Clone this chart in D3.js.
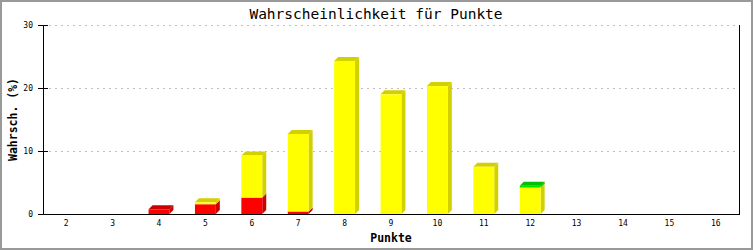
<!DOCTYPE html>
<html>
<head>
<meta charset="utf-8">
<script src="https://cdn.jsdelivr.net/npm/d3@7"></script>
<style>
  body { margin: 0; background: #fff; }
  svg { display: block; }
  text { font-family: "DejaVu Sans Mono", monospace; fill: #000; }
</style>
</head>
<body>
<svg id="chart" width="753" height="250"></svg>
<script>
//categories (Punkte) and stacked series values in %
let categories = ["2","3","4","5","6","7","8","9","10","11","12","13","14","15","16"];
let redValues    = [0, 0, 0.75, 1.55, 2.6, 0.4, 0, 0, 0, 0, 0, 0, 0, 0, 0];
let yellowValues = [0, 0, 0, 0.3, 6.7, 12.3, 24.3, 19.0, 20.3, 7.5, 4.2, 0, 0, 0, 0];
let greenValues  = [0, 0, 0, 0, 0, 0, 0, 0, 0, 0, 0.3, 0, 0, 0, 0];
let yTicks = [0, 10, 20, 30];

let seriesInfo = [
  { key: "red", values: redValues, front: "#ff0000", dark: "#cc0000" },
  { key: "yellow", values: yellowValues, front: "#ffff00", dark: "#d2d000" },
  { key: "green", values: greenValues, front: "#00e000", dark: "#00c000" }
];

//set margins for the plot area
let margin = { top: 25, right: 14, bottom: 36, left: 43 };
let svg = d3.select("#chart");
let width = 753 - margin.left - margin.right;
let height = 250 - margin.top - margin.bottom;
let depth = 4;

//outer frame
svg.append("rect").attr("x", 1).attr("y", 1).attr("width", 751).attr("height", 248)
  .attr("fill", "none").attr("stroke", "#999").attr("stroke-width", 2);

//title
svg.append("text").attr("x", 376).attr("y", 19).attr("text-anchor", "middle")
  .style("font-size", "14.5px").text("Wahrscheinlichkeit für Punkte");

let x = d3.scaleBand().domain(categories).range([0, width]).padding(0);
let y = d3.scaleLinear().domain([0, 30]).range([height, 0]);

let g = svg.append("g").attr("transform", "translate(" + margin.left + "," + margin.top + ")");

//grid lines
g.selectAll(".grid").data(yTicks.filter(function (d) { return d > 0; }))
  .enter().append("line")
  .attr("class", "grid")
  .attr("x1", 6).attr("x2", width)
  .attr("y1", function (d) { return Math.round(y(d)) + 0.5; })
  .attr("y2", function (d) { return Math.round(y(d)) + 0.5; })
  .attr("stroke", "#c0c0c0").attr("stroke-dasharray", "2,4");

//stack the data
let table = categories.map(function (c, i) {
  return { name: c, red: redValues[i], yellow: yellowValues[i], green: greenValues[i] };
});
let stacked = d3.stack().keys(seriesInfo.map(function (s) { return s.key; }))(table);

let bw = x.bandwidth() * 0.45;
function bx(d) { return x(d.data.name) + (x.bandwidth() - bw) / 2; }

//find top segment of each bar for the 3D top face
let totals = table.map(function (d) { return d.red + d.yellow + d.green; });

stacked.forEach(function (layer, li) {
  let info = seriesInfo[li];
  let segs = layer.filter(function (d) { return d[1] - d[0] > 0; });
  let lg = g.append("g").attr("class", "series-" + info.key);
  //side face
  lg.selectAll(".side").data(segs).enter().append("path")
    .attr("class", "side")
    .attr("fill", info.dark)
    .attr("d", function (d) {
      let x0 = bx(d) + bw, yTop = y(d[1]), yBot = y(d[0]);
      return "M" + x0 + "," + yTop + "L" + (x0 + depth) + "," + (yTop - depth) +
        "L" + (x0 + depth) + "," + (yBot - depth) + "L" + x0 + "," + yBot + "Z";
    });
  //top face, only on the highest segment
  lg.selectAll(".top").data(segs.filter(function (d) {
      return Math.abs(d[1] - totals[categories.indexOf(d.data.name)]) < 1e-9;
    })).enter().append("path")
    .attr("class", "top")
    .attr("fill", info.dark)
    .attr("d", function (d) {
      let x0 = bx(d), yTop = y(d[1]);
      return "M" + x0 + "," + yTop + "L" + (x0 + depth) + "," + (yTop - depth) +
        "L" + (x0 + bw + depth) + "," + (yTop - depth) + "L" + (x0 + bw) + "," + yTop + "Z";
    });
  //front face
  lg.selectAll(".bar").data(segs).enter().append("rect")
    .attr("class", "bar")
    .attr("x", bx)
    .attr("y", function (d) { return y(d[1]); })
    .attr("width", bw)
    .attr("height", function (d) { return y(d[0]) - y(d[1]); })
    .attr("fill", info.front);
});

//y axis with ticks on both sides
let yAxis = g.append("g").attr("class", "yaxis")
  .call(d3.axisLeft(y).tickValues(yTicks).tickSize(5).tickPadding(6));
yAxis.select(".domain").remove();
yAxis.selectAll(".tick line").attr("x2", 5).attr("x1", -5).attr("stroke", "#000");
yAxis.selectAll(".tick text").style("font-size", "8px").attr("x", -10);
g.append("line").attr("x1", 0.5).attr("x2", 0.5).attr("y1", 0).attr("y2", height).attr("stroke", "#000");
g.append("line").attr("x1", width + 0.5).attr("x2", width + 0.5).attr("y1", 0).attr("y2", height).attr("stroke", "#000");

//x axis
let xAxis = g.append("g").attr("class", "xaxis")
  .attr("transform", "translate(0," + height + ")")
  .call(d3.axisBottom(x).tickSize(0).tickPadding(6));
xAxis.select(".domain").remove();
xAxis.selectAll(".tick text").style("font-size", "8px");
g.append("line").attr("x1", -5).attr("x2", width + 1).attr("y1", height + 0.5).attr("y2", height + 0.5)
  .attr("stroke", "#000");

//axis names
g.append("text").attr("x", width / 2).attr("y", height + 28).attr("text-anchor", "middle")
  .style("font-size", "11.5px").style("font-weight", "bold").text("Punkte");
g.append("text").attr("transform", "translate(" + (-26) + "," + (height / 2) + ") rotate(-90)")
  .attr("text-anchor", "middle").style("font-size", "11.5px").style("font-weight", "bold")
  .text("Wahrsch. (%)");
</script>
</body>
</html>
